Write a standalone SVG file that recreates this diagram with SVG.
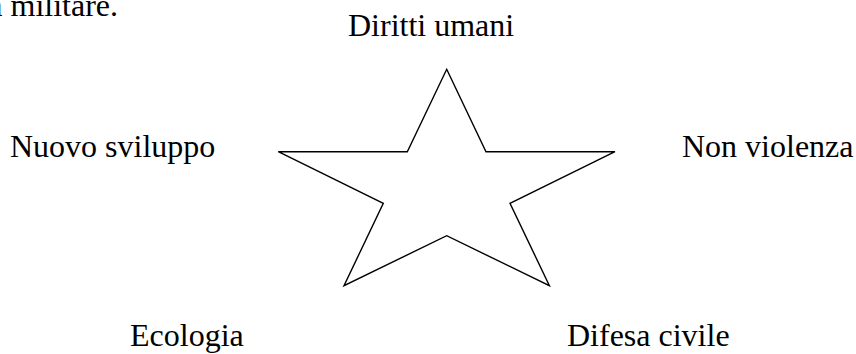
<svg xmlns="http://www.w3.org/2000/svg" width="856" height="354" viewBox="0 0 856 354">
<style>
.t{font-family:"Liberation Serif","Times New Roman",serif;font-size:32px;fill:#000}
.star{fill:#fff;stroke:#000;stroke-width:1.4;stroke-linejoin:miter}
</style>
<rect width="856" height="354" fill="#fff"/>
<text class="t" x="118" y="16" text-anchor="end">a militare.</text>
<g id="star">
<polygon class="star" points="446.7,69.3 486,151.7 615,151.7 510,203.3 549.4,285.7 446.7,235.7 344,285.7 383.3,203.3 278.3,151.7 407.3,151.7"/>
</g>
<g id="diritti"><text class="t" x="348" y="36">Diritti umani</text></g>
<g id="sviluppo"><text class="t" x="10" y="157">Nuovo sviluppo</text></g>
<g id="nonviolenza"><text class="t" x="682" y="157">Non violenza</text></g>
<g id="ecologia"><text class="t" x="130" y="346">Ecologia</text></g>
<g id="difesa"><text class="t" x="567" y="346">Difesa civile</text></g>
<g id="connectors"></g>
</svg>
